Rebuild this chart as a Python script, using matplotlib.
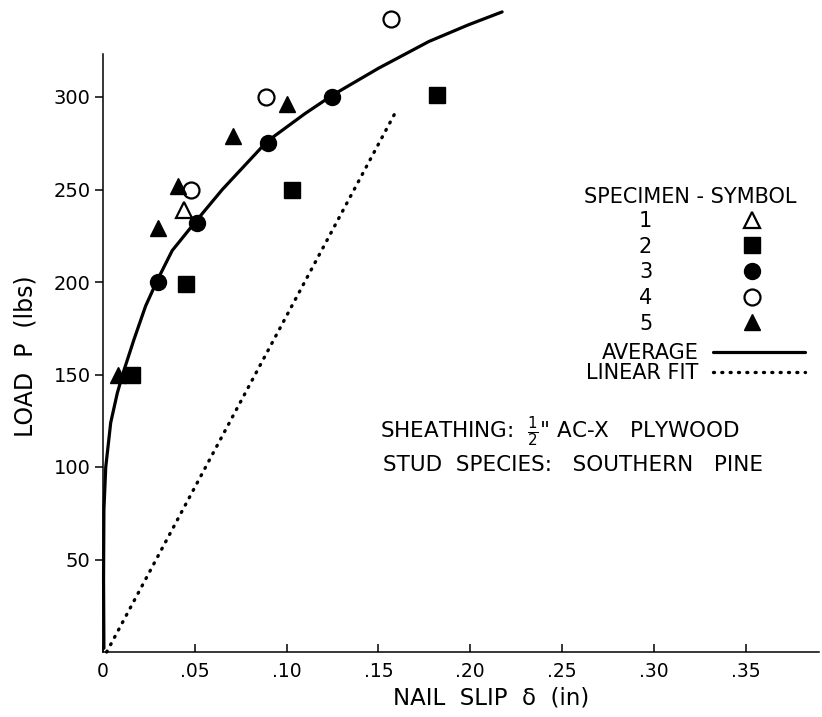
import matplotlib
matplotlib.use("Agg")
import matplotlib.pyplot as plt

plt.rcParams["font.family"] = ["DejaVu Sans"]
plt.rcParams["mathtext.fontset"] = "dejavusans"

# nail slip (in) and load (lbs) per specimen
spec1_x = [0.044]
spec1_y = [239]
spec2_x = [0.016, 0.045, 0.103, 0.182]
spec2_y = [150, 199, 250, 301]
spec3_x = [0.030, 0.051, 0.090, 0.125]
spec3_y = [200, 232, 275, 300]
spec4_x = [0.048, 0.089, 0.157]
spec4_y = [250, 300, 342]
spec5_x = [0.008, 0.030, 0.041, 0.071, 0.100]
spec5_y = [150, 229, 252, 279, 296]

# average curve
avg_x = [0.0005, 0.0003, 0.0005, 0.0015, 0.0042, 0.0078, 0.011, 0.0169, 0.0232, 0.0296,
         0.0377, 0.0504, 0.065, 0.0894, 0.110, 0.125, 0.150, 0.1775, 0.199, 0.2174]
avg_y = [2, 40, 77, 100, 124, 140, 151, 169, 187, 201,
         217, 232.6, 250, 276, 291, 301, 315.5, 330, 339, 346]

# linear fit
fit_x = [0.002, 0.160]
fit_y = [0, 293]

specimen_labels = ["1", "2", "3", "4", "5"]
x_ticks = [0, 0.05, 0.10, 0.15, 0.20, 0.25, 0.30, 0.35]
x_tick_labels = ["0", ".05", ".10", ".15", ".20", ".25", ".30", ".35"]
y_ticks = [50, 100, 150, 200, 250, 300]

fig = plt.figure(figsize=(8.22, 7.17), dpi=100)
ax = fig.add_axes([103 / 822, 1 - 652 / 717, 716 / 822, 647.5 / 717])
ax.set_xlim(0, 0.39)
ax.set_ylim(0, 350)

avg_line, = ax.plot(avg_x, avg_y, color="black", lw=2.3, clip_on=False, zorder=3,
                    solid_joinstyle="round", solid_capstyle="round")
fit_line, = ax.plot(fit_x, fit_y, color="black", lw=2.4, linestyle=(0, (0.3, 2.2)),
                    dash_capstyle="round", clip_on=False, zorder=2)

kw = dict(linestyle="none", color="black", mec="black", clip_on=False, zorder=4)
h1, = ax.plot(spec1_x, spec1_y, marker="^", ms=12, mfc="white", mew=1.6, **kw)
h2, = ax.plot(spec2_x, spec2_y, marker="s", ms=11, mfc="black", **kw)
h3, = ax.plot(spec3_x, spec3_y, marker="o", ms=11.5, mfc="black", **kw)
h4, = ax.plot(spec4_x, spec4_y, marker="o", ms=11.5, mfc="white", mew=1.6, **kw)
h5, = ax.plot(spec5_x, spec5_y, marker="^", ms=12, mfc="black", **kw)

for side in ["top", "right"]:
    ax.spines[side].set_visible(False)
ax.spines["left"].set_bounds(0, 323)
ax.spines["left"].set_linewidth(1.1)
ax.spines["bottom"].set_linewidth(1.1)

ax.set_xticks(x_ticks)
ax.set_xticklabels(x_tick_labels)
ax.set_yticks(y_ticks)
ax.tick_params(axis="x", direction="in", length=6, width=1.1, pad=7, labelsize=13.5)
ax.tick_params(axis="y", direction="out", length=6, width=1.1, pad=3, labelsize=14)

ax.set_xlabel("NAIL  SLIP  δ  (in)", fontsize=16.5)
ax.set_ylabel("LOAD  P  (lbs)", fontsize=17)
ax.xaxis.set_label_coords(0.542, -0.054)
ax.yaxis.set_label_coords(-0.092, 0.457)

fig.text(690 / 822, 1 - 197 / 717, "SPECIMEN - SYMBOL", ha="center", va="center", fontsize=15)

leg1 = ax.legend([h1, h2, h3, h4, h5], specimen_labels, loc="upper right",
                 bbox_to_anchor=(773 / 822, 1 - 211 / 717), bbox_transform=fig.transFigure,
                 frameon=False, markerfirst=False, fontsize=15, borderpad=0,
                 handlelength=2, handletextpad=3.8, labelspacing=0.27, borderaxespad=0)
ax.add_artist(leg1)
ax.legend([avg_line, fit_line], ["AVERAGE", "LINEAR FIT"], loc="upper right",
          bbox_to_anchor=(805 / 822, 1 - 343 / 717), bbox_transform=fig.transFigure,
          frameon=False, markerfirst=False, fontsize=15, borderpad=0,
          handlelength=4.4, handletextpad=0.7, labelspacing=0.0, borderaxespad=0)

ax.text(0.387, 0.33, "SHEATHING:  $\\frac{1}{2}$\" AC-X   PLYWOOD", transform=ax.transAxes,
        fontsize=15.5, va="baseline", ha="left")
ax.text(0.391, 0.28, "STUD  SPECIES:   SOUTHERN   PINE", transform=ax.transAxes,
        fontsize=15.5, va="baseline", ha="left")

fig.savefig("out.png", dpi=100)
